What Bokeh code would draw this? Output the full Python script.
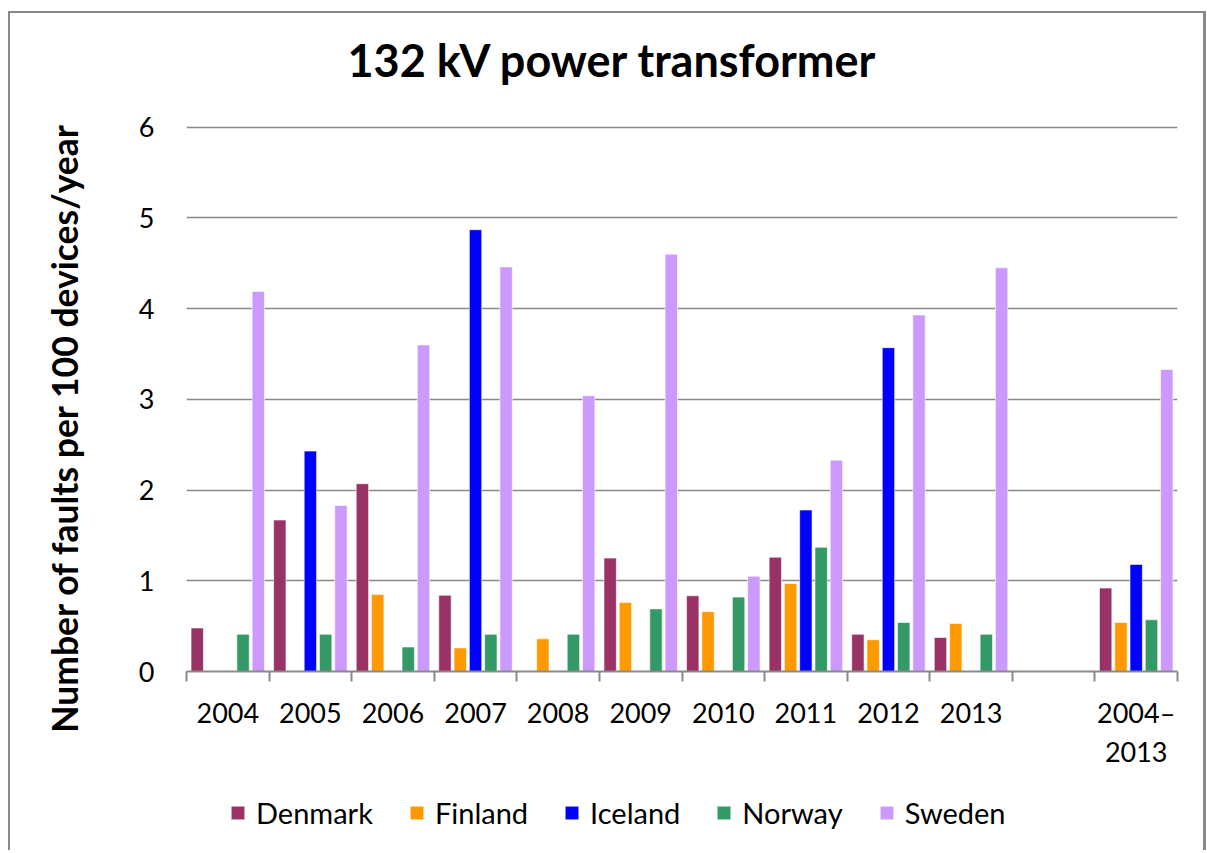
from bokeh.plotting import figure
from bokeh.layouts import column
from bokeh.models import (FixedTicker, Legend, LegendItem, ColumnDataSource,
                          Range1d, LinearAxis)
from bokeh.transform import dodge
from bokeh.embed import file_html
from bokeh.resources import INLINE

nan = float("nan")

categories = ["2004", "2005", "2006", "2007", "2008", "2009", "2010",
              "2011", "2012", "2013", "", "2004–\n2013"]
countries = ["Denmark", "Finland", "Iceland", "Norway", "Sweden"]
denmark = [0.48, 1.67, 2.07, 0.84, nan, 1.25, 0.835, 1.26, 0.41, 0.375, nan, 0.92]
finland = [nan, nan, 0.85, 0.26, 0.36, 0.76, 0.66, 0.97, 0.35, 0.53, nan, 0.54]
iceland = [nan, 2.43, nan, 4.87, nan, nan, nan, 1.78, 3.57, nan, nan, 1.18]
norway = [0.41, 0.41, 0.27, 0.41, 0.41, 0.69, 0.82, 1.37, 0.54, 0.41, nan, 0.57]
sweden = [4.19, 1.83, 3.60, 4.46, 3.04, 4.60, 1.05, 2.33, 3.93, 4.45, nan, 3.33]
colors = ["#993366", "#FF9900", "#0000FF", "#339966", "#CC99FF"]
y_ticks = [0, 1, 2, 3, 4, 5, 6]
title_text = "132 kV power transformer"
y_title = "Number of faults per 100 devices/year"

FONT = "Lato"
GRAY = "#898989"
W = 1195

centers = [i + 0.5 for i in range(len(categories))]
bounds = list(range(len(categories) + 1))

src = ColumnDataSource(dict(x=centers, Denmark=denmark, Finland=finland,
                            Iceland=iceland, Norway=norway, Sweden=sweden))

shadow = "3px 0 0 0 " + GRAY
side = "2px solid " + GRAY

# ---- main chart (with title) ----
p = figure(width=W, height=779, output_backend="svg", toolbar_location=None,
           x_range=Range1d(0, len(categories)), y_range=Range1d(0, 6.03),
           min_border_left=176, min_border_right=28, min_border_top=111,
           min_border_bottom=121)
p.styles = {"border-left": side, "border-top": side, "box-shadow": shadow}
p.outline_line_color = None

xa = p.below[0]
ya = p.left[0]

p.title.text = title_text
p.title.text_font = FONT
p.title.text_font_style = "bold"
p.title.text_font_size = "45px"
p.title.text_color = "black"
p.title.align = "left"
p.title.offset = 161
p.title.vertical_align = "bottom"
p.title.standoff = 34

# spacer axis between the title and the plot area (one invisible tick, no label)
spacer = LinearAxis(ticker=FixedTicker(ticks=[0.5], minor_ticks=[]),
                    major_label_overrides={0.5: ""},
                    major_label_text_font_size="1px",
                    axis_line_color=None,
                    major_tick_line_color=None, minor_tick_line_color=None,
                    major_tick_out=21, major_tick_in=0, minor_tick_out=0,
                    minor_tick_in=0, major_label_standoff=0)
p.add_layout(spacer, "above")

pitch = 0.185
renderers = []
for k, (name, col) in enumerate(zip(countries, colors)):
    r = p.vbar(x=dodge("x", (k - 2) * pitch, range=p.x_range), top=name,
               width=0.15, source=src, fill_color=col, line_color="white",
               line_alpha=0.6, line_width=1)
    renderers.append(r)

xa.ticker = FixedTicker(ticks=centers, minor_ticks=bounds)
xa.major_label_overrides = {c: lab for c, lab in zip(centers, categories)}
xa.axis_line_color = GRAY
xa.axis_line_width = 2
xa.major_tick_line_color = None
xa.major_tick_out = 10
xa.major_tick_in = 0
xa.minor_tick_line_color = GRAY
xa.minor_tick_line_width = 2
xa.minor_tick_out = 10
xa.minor_tick_in = 0
xa.major_label_standoff = 14
xa.major_label_text_font = FONT
xa.major_label_text_font_size = "27px"
xa.major_label_text_color = "black"

ya.ticker = FixedTicker(ticks=y_ticks)
ya.axis_line_color = None
ya.major_tick_line_color = None
ya.minor_tick_line_color = None
ya.major_tick_out = 0
ya.major_tick_in = 0
ya.major_label_standoff = 32
ya.major_label_text_font = FONT
ya.major_label_text_font_size = "27px"
ya.major_label_text_color = "black"

# axis that carries only the y title; trailing no-break spaces move the
# visible words down, as in the original where the title is not centred
yl = LinearAxis(ticker=FixedTicker(ticks=[]),
                axis_line_color=None, major_tick_line_color=None,
                minor_tick_line_color=None, major_tick_out=0, major_tick_in=0,
                minor_tick_out=0, minor_tick_in=0, major_label_standoff=0,
                axis_label=y_title + "\u00a0" * 7, axis_label_standoff=50,
                axis_label_text_font=FONT, axis_label_text_font_style="bold",
                axis_label_text_font_size="35.5px", axis_label_text_color="black")
p.add_layout(yl, "left")

p.xgrid.grid_line_color = None
p.ygrid.ticker = FixedTicker(ticks=y_ticks)
p.ygrid.grid_line_color = GRAY
p.ygrid.grid_line_width = 1.5

# ---- legend strip ----
p2 = figure(width=W, height=60, output_backend="svg", toolbar_location=None,
            x_axis_location=None, y_axis_location=None,
            x_range=Range1d(0, len(categories)), y_range=Range1d(100, 101),
            min_border=0, outline_line_color=None)
p2.styles = {"border-left": side, "box-shadow": shadow}
for g in p2.grid:
    g.visible = False
leg_r = []
for name, col in zip(countries, colors):
    leg_r.append(p2.vbar(x="x", top=name, width=0.15, source=src,
                         fill_color=col, line_color="white", line_alpha=0.6,
                         line_width=1))
legend = Legend(items=[LegendItem(label=n, renderers=[r]) for n, r in zip(countries, leg_r)],
                orientation="horizontal", location=(43, 20),
                glyph_width=17, glyph_height=17, label_standoff=10, spacing=35,
                padding=0, margin=0, border_line_color=None,
                background_fill_alpha=0,
                label_text_font=FONT, label_text_font_size="29px",
                label_text_color="black")
p2.add_layout(legend)

layout = column(p, p2, spacing=0,
                styles={"margin-left": "8px", "margin-top": "11px"})

open("out.html", "w").write(file_html(layout, INLINE))
